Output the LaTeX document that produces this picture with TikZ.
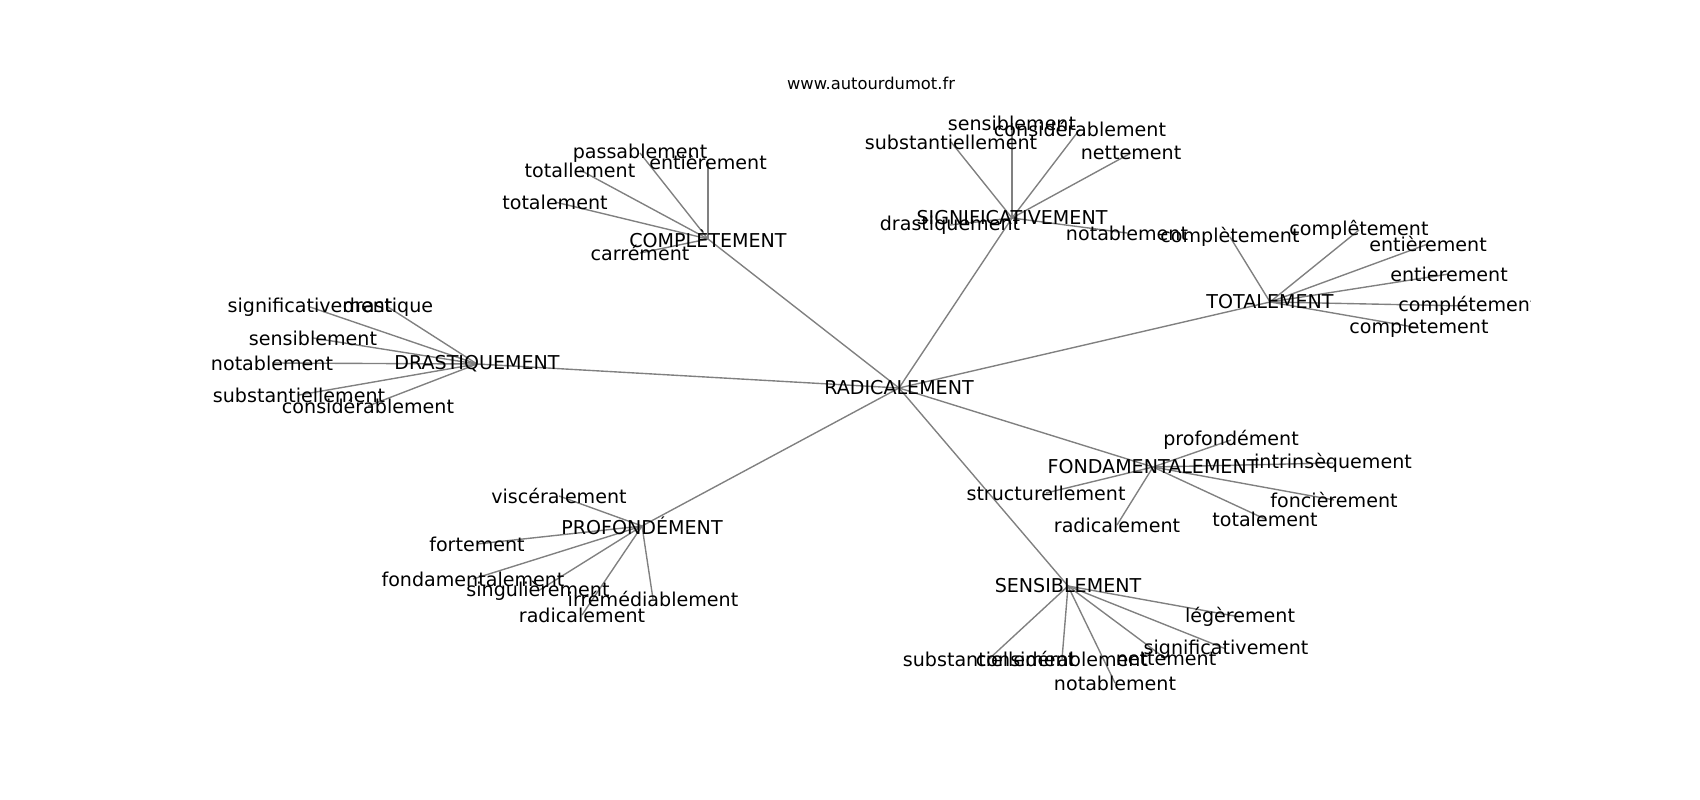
\documentclass[tikz,border=0pt]{standalone}
\usepackage{fontspec}
\setmainfont{DejaVu Sans}
\usetikzlibrary{backgrounds}

\begin{document}
\begin{tikzpicture}[x=0.0254cm,y=-0.0254cm]
\tikzstyle{word} = [inner sep=0pt, text=black, font=\fontsize{13.8}{16}\selectfont]
\tikzstyle{edge} = [draw=black!50, line width=1pt]

\useasboundingbox (0,0) rectangle (1700,800);
\node[inner sep=0pt, font=\fontsize{11.8}{14}\selectfont] (title) at (871,83) {www.autourdumot.fr};

\begin{scope}
\clip (212.5,96) rectangle (1530,712);
% hubs
\node[word] (r) at (899,388) {RADICALEMENT};
\node[word] (s) at (1012,218) {SIGNIFICATIVEMENT};
\node[word] (c) at (708,239) {COMPLÈTEMENT};
\node[word] (d) at (477,364) {DRASTIQUEMENT};
\node[word] (t) at (1270,302) {TOTALEMENT};
\node[word] (f) at (1153,467) {FONDAMENTALEMENT};
\node[word] (p) at (642,526) {PROFONDÉMENT};
\node[word] (e) at (1068,586) {SENSIBLEMENT};

\node[word] (s1) at (1012,123) {sensiblement};
\node[word] (s2) at (1080,129) {considérablement};
\node[word] (s3) at (951,142) {substantiellement};
\node[word] (s4) at (1131,153) {nettement};
\node[word] (s5) at (950,225) {drastiquement};
\node[word] (s6) at (1127,233) {notablement};

\node[word] (c1) at (640,153) {passablement};
\node[word] (c2) at (708,162) {entièrement};
\node[word] (c3) at (580,170) {totallement};
\node[word] (c4) at (555,202) {totalement};
\node[word] (c5) at (640,253) {carrément};

\node[word] (d1) at (310,307) {significativement};
\node[word] (d2) at (388,307) {drastique};
\node[word] (d3) at (313,338) {sensiblement};
\node[word] (d4) at (272,363) {notablement};
\node[word] (d5) at (299,395) {substantiellement};
\node[word] (d6) at (368,406) {considérablement};

\node[word] (t1) at (1230,237) {complètement};
\node[word] (t2) at (1359,230) {complêtement};
\node[word] (t3) at (1428,244) {entièrement};
\node[word] (t4) at (1449,274) {entierement};
\node[word] (t5) at (1468,306) {complétement};
\node[word] (t6) at (1419,328) {completement};

\node[word] (f1) at (1231,440) {profondément};
\node[word] (f2) at (1333,463) {intrinsèquement};
\node[word] (f3) at (1046,493) {structurellement};
\node[word] (f4) at (1334,500) {foncièrement};
\node[word] (f5) at (1117,525) {radicalement};
\node[word] (f6) at (1265,519) {totalement};

\node[word] (p1) at (559,496) {viscéralement};
\node[word] (p2) at (477,544) {fortement};
\node[word] (p3) at (473,579) {fondamentalement};
\node[word] (p4) at (538,591) {singulièrement};
\node[word] (p5) at (653,599) {irrémédiablement};
\node[word] (p6) at (582,615) {radicalement};

\node[word] (e1) at (1240,617) {légèrement};
\node[word] (e2) at (1226,649) {significativement};
\node[word] (e3) at (1166,659) {nettement};
\node[word] (e4) at (989,659) {substantiellement};
\node[word] (e5) at (1062,659) {considérablement};
\node[word] (e6) at (1115,683) {notablement};
\end{scope}

\begin{pgfonlayer}{background}
\foreach \h in {s,c,d,t,f,p,e}
  \draw[edge] (r.center) -- (\h.center);
\foreach \i in {1,...,6} {
  \draw[edge] (s.center) -- (s\i.center);
  \draw[edge] (d.center) -- (d\i.center);
  \draw[edge] (t.center) -- (t\i.center);
  \draw[edge] (f.center) -- (f\i.center);
  \draw[edge] (p.center) -- (p\i.center);
  \draw[edge] (e.center) -- (e\i.center);
}
\foreach \i in {1,...,5}
  \draw[edge] (c.center) -- (c\i.center);
\end{pgfonlayer}
\end{tikzpicture}
\end{document}
